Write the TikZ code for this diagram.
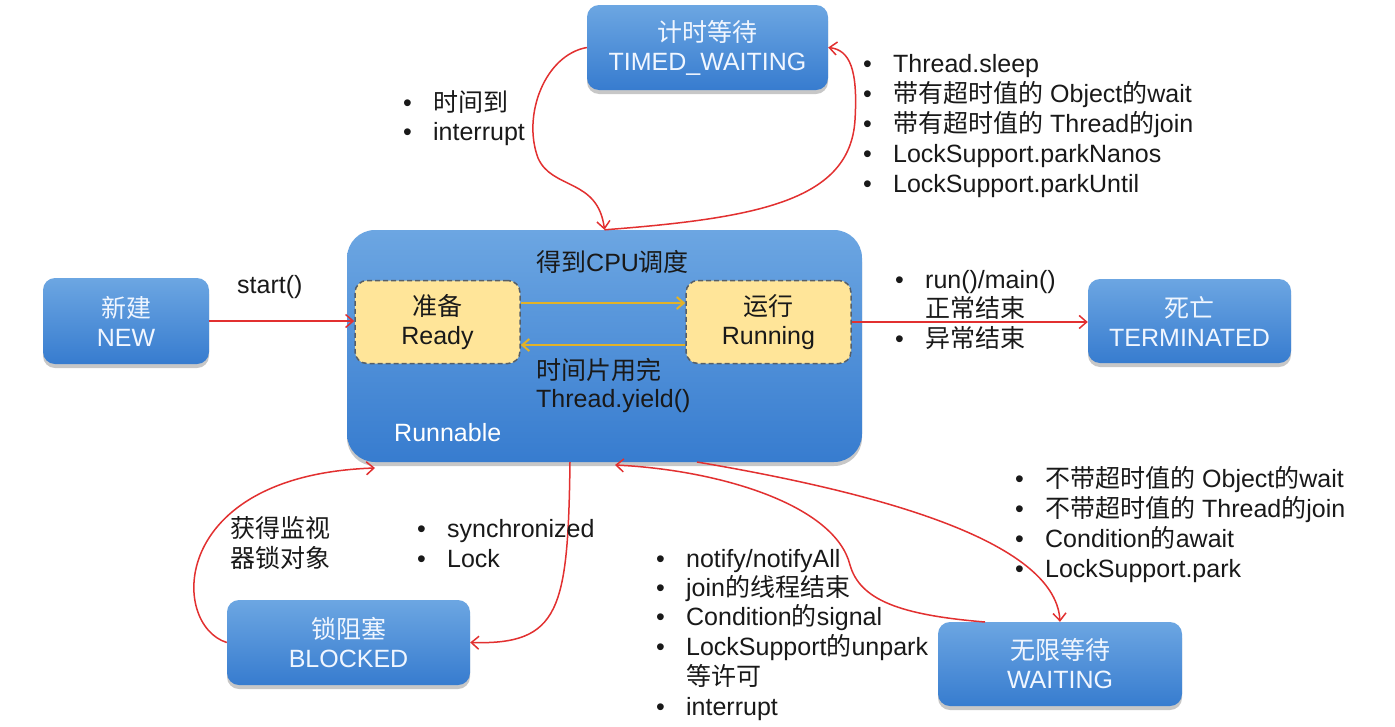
\documentclass[tikz,border=0pt]{standalone}
\usepackage{fontspec}
\setmainfont{Liberation Sans}
\newfontfamily\cjkfont{Noto Sans CJK SC}
\newcommand\zh[1]{{\cjkfont #1}}
\newcommand\bul{\makebox[30pt][l]{•}}
\usetikzlibrary{arrows.meta,shadows}
\definecolor{bluetop}{RGB}{108,166,226}
\definecolor{bluebot}{RGB}{55,124,207}
\definecolor{readyfill}{RGB}{255,229,153}
\definecolor{dashcol}{RGB}{85,95,105}
\definecolor{goldarrow}{RGB}{226,178,40}
\definecolor{redline}{RGB}{226,48,48}
\definecolor{txtdark}{RGB}{25,25,25}
\definecolor{boxtext}{RGB}{240,246,255}
\begin{document}
\begin{tikzpicture}[x=1pt,y=-1pt,
  every node/.style={font=\fontsize{25}{29}\selectfont},
  state/.style={rounded corners=12pt, top color=bluetop, bottom color=bluebot, draw=none,
    text=boxtext, align=center, inner sep=0pt,
    drop shadow={shadow xshift=0pt, shadow yshift=-4pt, opacity=0.22, fill=black}},
  sub/.style={rounded corners=12pt, fill=readyfill, draw=dashcol, dash pattern=on 5pt off 3pt,
    line width=1.5pt, text=txtdark, align=center, inner sep=0pt},
  lbl/.style={anchor=base west, inner sep=0pt, text=txtdark},
  rarr/.style={draw=redline, line width=1.5pt, -{Straight Barb[length=7.5pt,width=13pt]}},
  yarr/.style={draw=goldarrow, line width=2pt, -{Straight Barb[length=7pt,width=12pt]}},
]
\useasboundingbox (0,0) rectangle (1395,726);
\fill[white] (0,0) rectangle (1395,726);

% state boxes
\node[state, minimum width=241pt, minimum height=85pt] (tw) at (707.5,47.5) {\zh{计时等待}\\TIMED\_WAITING};
\node[state, minimum width=166pt, minimum height=86pt] (new) at (126,321) {\zh{新建}\\NEW};
\node[state, rounded corners=28pt, minimum width=515pt, minimum height=232pt] (run) at (604.5,346) {};
\node[sub, minimum width=165pt, minimum height=83pt] (ready) at (437.5,322) {\zh{准备}\\Ready};
\node[sub, minimum width=165pt, minimum height=83pt] (running) at (768.5,322) {\zh{运行}\\Running};
\node[state, minimum width=203pt, minimum height=84pt] (term) at (1189.5,321) {\zh{死亡}\\TERMINATED};
\node[state, minimum width=243pt, minimum height=85pt] (blk) at (348.5,642.5) {\zh{锁阻塞}\\BLOCKED};
\node[state, minimum width=244pt, minimum height=84pt] (wait) at (1060,664) {\zh{无限等待}\\WAITING};

% free ends on the Runnable box edge
\coordinate (bin) at (375,468);
\coordinate (bout) at (570,462);
\coordinate (win) at (615,465);
\coordinate (wout) at (697,462);
\coordinate (wl) at (985,622);

% connectors
\draw[yarr] ([yshift=19pt]ready.east) -- ([yshift=19pt]running.west);
\draw[yarr] ([yshift=-23pt]running.west) -- ([yshift=-23pt]ready.east);
\draw[rarr] (new.east) -- (new.east -| ready.west);
\draw[rarr] (running.east) -- (running.east -| term.west);
\draw[rarr] (tw.west) .. controls (545,55) and (522,115) .. (538,158)
  .. controls (552,190) and (598,178) .. (run.north);
\draw[rarr] (run.north) .. controls (760,218) and (850,200) .. (855,120)
  .. controls (858,70) and (850,50) .. (tw.east);
\draw[rarr] (blk.west) .. controls (170,625) and (168,475) .. (bin);
\draw[rarr] (bout) .. controls (568,610) and (560,645) .. (blk.east);
\draw[rarr] (wl) .. controls (900,615) and (860,600) .. (850,565)
  .. controls (835,505) and (720,470) .. (win);
\draw[rarr] (wout) .. controls (850,488) and (1055,535) .. (wait.north);

% labels inside Runnable
\node[lbl] (cpu) at (536,271) {\zh{得到}CPU\zh{调度}};
\node[lbl] (slice) at (536,379) {\zh{时间片用完}};
\node[lbl] (yield) at (536,407) {Thread.yield()};
\node[lbl, text=white] (rlbl) at (394,441) {Runnable};

% start
\node[lbl] (start) at (237,293) {start()};

% timed waiting labels
\node[lbl] (ta1) at (403,111) {\bul\zh{时间到}};
\node[lbl] (ta2) at (403,140) {\bul interrupt};
\node[lbl] (tb1) at (863,72) {\bul Thread.sleep};
\node[lbl] (tb2) at (863,102) {\bul\zh{带有超时值的} Object\zh{的}wait};
\node[lbl] (tb3) at (863,132) {\bul\zh{带有超时值的} Thread\zh{的}join};
\node[lbl] (tb4) at (863,162) {\bul LockSupport.parkNanos};
\node[lbl] (tb5) at (863,192) {\bul LockSupport.parkUntil};

% terminated labels
\node[lbl] (te1) at (895,288) {\bul run()/main()};
\node[lbl] (te2) at (925,317) {\zh{正常结束}};
\node[lbl] (te3) at (895,347) {\bul\zh{异常结束}};

% blocked labels
\node[lbl] (bl1) at (230,537) {\zh{获得监视}};
\node[lbl] (bl2) at (230,567) {\zh{器锁对象}};
\node[lbl] (bs1) at (417,537) {\bul synchronized};
\node[lbl] (bs2) at (417,567) {\bul Lock};

% waiting labels
\node[lbl] (wa1) at (1015,487) {\bul\zh{不带超时值的} Object\zh{的}wait};
\node[lbl] (wa2) at (1015,517) {\bul\zh{不带超时值的} Thread\zh{的}join};
\node[lbl] (wa3) at (1015,547) {\bul Condition\zh{的}await};
\node[lbl] (wa4) at (1015,577) {\bul LockSupport.park};
\node[lbl] (wn1) at (656,567) {\bul notify/notifyAll};
\node[lbl] (wn2) at (656,596) {\bul join\zh{的线程结束}};
\node[lbl] (wn3) at (656,625) {\bul Condition\zh{的}signal};
\node[lbl] (wn4) at (656,655) {\bul LockSupport\zh{的}unpark};
\node[lbl] (wn5) at (686,685) {\zh{等许可}};
\node[lbl] (wn6) at (656,715) {\bul interrupt};
\end{tikzpicture}
\end{document}
